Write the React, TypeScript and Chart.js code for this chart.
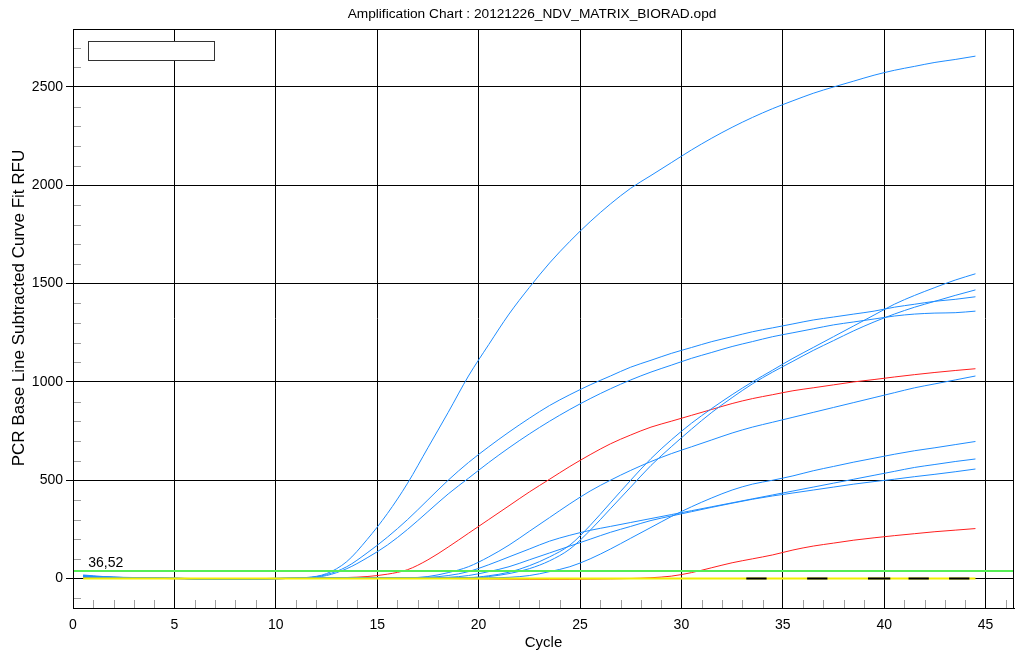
import React, { useEffect, useRef } from 'react';
import { Chart, registerables } from 'chart.js';

Chart.register(...registerables);

const FONT = '"Liberation Sans", Arial, sans-serif';

const chartTitle = 'Amplification Chart : 20121226_NDV_MATRIX_BIORAD.opd';
const xAxisTitle = 'Cycle';
const yAxisTitle = 'PCR Base Line Subtracted Curve Fit RFU';
const thresholdValue = 36.52;
const thresholdLabel = '36,52';

const xTickValues = [0, 5, 10, 15, 20, 25, 30, 35, 40, 45];
const yTickValues = [0, 500, 1000, 1500, 2000, 2500];

const cycles = [
  0.5, 1.5, 2.5, 3.5, 4.5, 5.5, 6.5, 7.5, 8.5, 9.5,
  10.5, 11.5, 12.5, 13.5, 14.5, 15.5, 16.5, 17.5, 18.5, 19.5,
  20.5, 21.5, 22.5, 23.5, 24.5, 25.5, 26.5, 27.5, 28.5, 29.5,
  30.5, 31.5, 32.5, 33.5, 34.5, 35.5, 36.5, 37.5, 38.5, 39.5,
  40.5, 41.5, 42.5, 43.5, 44.5,
];

const wellA = [
  18, 10, 6, 4, 3, 1, -2, -3, -3, -1, 2,
  5, 25, 86, 198, 330, 485, 665, 845, 1030, 1190,
  1345, 1480, 1605, 1715, 1815, 1905, 1985, 2050, 2115, 2180,
  2240, 2295, 2345, 2390, 2430, 2468, 2500, 2530, 2560, 2585,
  2605, 2625, 2640, 2657,
];
const wellB = [
  15, 8, 5, 3, 2, 0, -2, -3, -2, 0, 2,
  4, 20, 60, 130, 210, 300, 400, 500, 590, 670,
  745, 815, 880, 935, 985, 1030, 1075, 1110, 1145, 1175,
  1205, 1230, 1255, 1275, 1295, 1315, 1330, 1345, 1360, 1380,
  1395, 1410, 1420, 1433,
];
const wellC = [
  12, 7, 4, 3, 1, -1, -3, -3, -2, 0, 1,
  3, 15, 50, 105, 170, 250, 340, 430, 510, 590,
  665, 735, 800, 860, 915, 965, 1010, 1050, 1085, 1120,
  1150, 1180, 1205, 1230, 1250, 1270, 1290, 1305, 1320, 1335,
  1345, 1350, 1352, 1360,
];
const wellD = [
  14, 8, 5, 3, 2, 0, -2, -3, -3, -1, 1,
  2, 2, 3, 3, 3, 4, 4, 5, 5, 14,
  32, 65, 110, 170, 270, 385, 500, 610, 705, 790,
  865, 935, 1000, 1060, 1120, 1175, 1230, 1285, 1340, 1395,
  1440, 1480, 1518, 1550,
];
const wellE = [
  13, 7, 4, 3, 1, 0, -2, -3, -3, -1, 1,
  2, 2, 3, 3, 3, 3, 4, 4, 3, 10,
  25, 50, 90, 150, 245, 355, 465, 575, 670, 760,
  845, 920, 990, 1050, 1105, 1160, 1210, 1260, 1305, 1345,
  1380, 1410, 1440, 1468,
];
const wellF = [
  11, 6, 4, 2, 1, 0, -2, -3, -3, -2, 0,
  2, 2, 3, 3, 4, 4, 10, 30, 60, 110,
  170, 240, 310, 380, 445, 500, 550, 595, 635, 670,
  705, 740, 770, 795, 820, 845, 870, 895, 920, 945,
  970, 990, 1010, 1030,
];
const wellG = [
  10, 6, 4, 2, 1, 0, -2, -3, -3, -2, 0,
  2, 3, 3, 4, 4, 4, 6, 15, 35, 70,
  110, 150, 190, 220, 245, 265, 285, 305, 325, 345,
  365, 385, 405, 425, 445, 465, 485, 505, 525, 545,
  565, 580, 595, 608,
];
const wellH = [
  9, 5, 3, 2, 1, -1, -2, -3, -3, -2, 0,
  1, 2, 3, 3, 3, 4, 4, 6, 15, 35,
  60, 95, 130, 165, 200, 235, 265, 295, 318, 340,
  362, 383, 403, 420, 435, 450, 465, 480, 493, 505,
  518, 530, 543, 557,
];
const wellI = [
  8, 5, 3, 2, 0, -1, -2, -3, -3, -2, 0,
  1, 2, 2, 3, 3, 3, 4, 4, 4, 4,
  6, 15, 35, 60, 100, 150, 205, 260, 315, 365,
  410, 450, 480, 500, 522, 548, 570, 592, 612, 632,
  650, 665, 681, 697,
];
const wellRed1 = [
  10, 6, 4, 2, 1, 0, -1, -2, -2, -1, 0,
  2, 3, 5, 10, 22, 45, 95, 160, 230, 300,
  370, 440, 505, 570, 630, 685, 730, 770, 800, 830,
  860, 890, 915, 935, 955, 970, 985, 1000, 1012, 1025,
  1037, 1048, 1058, 1067,
];
const wellRed2 = [
  6, 3, 2, 1, 0, -1, -2, -2, -2, -1, 0,
  0, 1, 1, 1, 1, 1, 0, 0, -1, -2,
  -3, -4, -4, -4, -3, -2, 0, 4, 12, 30,
  55, 80, 100, 120, 145, 165, 180, 195, 207, 218,
  228, 238, 246, 254,
];
const wellYellow = [
  0, 0, 0, 0, 0, 0, 0, 0, 0, 0, 0,
  0, 0, 0, 0, 0, 0, 0, 0, 0, 0,
  0, 0, 0, 0, 0, 0, 0, 0, 0, 0,
  0, 0, 0, 0, 0, 0, 0, 0, 0, 0,
  0, 0, 0, 0,
];
const blackCycles = [33.2, 34.2, 35.0, 36.2, 37.2, 38.0, 39.2, 40.3, 40.8, 41.2, 42.2, 42.7, 43.2, 44.2];
const wellBlack = [0, 0, null, 0, 0, null, 0, 0, null, 0, 0, null, 0, 0];

const BLUE = '#1e8cff';
const RED = '#ff1f1f';
const YELLOW = '#f2ee00';
const GREEN = '#55ee55';

function pts(xs: number[], ys: (number | null)[]) {
  return xs.map((x, i) => ({ x, y: ys[i] }));
}

const decorPlugin = {
  id: 'decor',
  beforeDatasetsDraw(chart: any) {
    const { ctx, chartArea } = chart;
    const xs = chart.scales.x;
    const ys = chart.scales.y;
    ctx.save();
    ctx.strokeStyle = '#a0a0a0';
    ctx.lineWidth = 1;
    ctx.beginPath();
    for (let v = 1; v <= 46; v++) {
      if (v % 5 === 0) continue;
      const px = Math.round(xs.getPixelForValue(v)) + 0.5;
      if (px > chartArea.right) continue;
      ctx.moveTo(px, chartArea.bottom);
      ctx.lineTo(px, chartArea.bottom - 8);
    }
    for (let v = -100; v <= 2700; v += 100) {
      if (v % 500 === 0) continue;
      const py = Math.round(ys.getPixelForValue(v)) + 0.5;
      ctx.moveTo(chartArea.left, py);
      ctx.lineTo(chartArea.left + 8, py);
    }
    ctx.stroke();
    ctx.restore();
  },
  afterDatasetsDraw(chart: any) {
    const { ctx, chartArea } = chart;
    const ys = chart.scales.y;
    const xs = chart.scales.x;
    const ty = ys.getPixelForValue(thresholdValue);
    ctx.save();
    ctx.strokeStyle = GREEN;
    ctx.lineWidth = 2;
    ctx.beginPath();
    ctx.moveTo(chartArea.left, Math.round(ty));
    ctx.lineTo(chartArea.right, Math.round(ty));
    ctx.stroke();
    ctx.fillStyle = '#000';
    ctx.font = `14px ${FONT}`;
    ctx.textAlign = 'left';
    ctx.textBaseline = 'alphabetic';
    ctx.fillText(thresholdLabel, xs.getPixelForValue(0.75), ty - 4);
    ctx.restore();
  },
  afterDraw(chart: any) {
    const { ctx, chartArea } = chart;
    ctx.save();
    ctx.strokeStyle = '#000';
    ctx.lineWidth = 1;
    ctx.strokeRect(
      Math.round(chartArea.left) + 0.5,
      Math.round(chartArea.top) + 0.5,
      Math.round(chartArea.right - chartArea.left) - 1,
      Math.round(chartArea.bottom - chartArea.top)
    );
    ctx.strokeStyle = '#333';
    ctx.fillStyle = '#fff';
    ctx.fillRect(89, 42, 125, 18);
    ctx.strokeRect(88.5, 41.5, 126, 19);
    ctx.fillStyle = '#000';
    ctx.font = `13.7px ${FONT}`;
    ctx.textAlign = 'center';
    ctx.textBaseline = 'middle';
    ctx.fillText(chartTitle, 532, 14);
    ctx.translate(19, 308);
    ctx.rotate(-Math.PI / 2);
    ctx.font = `17px ${FONT}`;
    ctx.fillText(yAxisTitle, 0, 0);
    ctx.restore();
  },
};

export default function App() {
  const ref = useRef<HTMLCanvasElement>(null);

  useEffect(() => {
    if (!ref.current) return;
    const line = (label: string, xs: number[], ys: (number | null)[], color: string, order: number, extra: any = {}) => ({
      label,
      data: pts(xs, ys),
      borderColor: color,
      backgroundColor: color,
      borderWidth: 1,
      pointRadius: 0,
      cubicInterpolationMode: 'monotone',
      fill: false,
      order,
      ...extra,
    });
    const chart = new Chart(ref.current, {
      type: 'line',
      data: {
        datasets: [
          line('Black', blackCycles, wellBlack, '#000', 0, { borderWidth: 2, spanGaps: false, cubicInterpolationMode: 'default', tension: 0 }),
          line('A', cycles, wellA, BLUE, 2),
          line('B', cycles, wellB, BLUE, 2),
          line('C', cycles, wellC, BLUE, 2),
          line('D', cycles, wellD, BLUE, 2),
          line('E', cycles, wellE, BLUE, 2),
          line('F', cycles, wellF, BLUE, 2),
          line('G', cycles, wellG, BLUE, 2),
          line('H', cycles, wellH, BLUE, 2),
          line('I', cycles, wellI, BLUE, 2),
          line('Red1', cycles, wellRed1, RED, 3),
          line('Red2', cycles, wellRed2, RED, 3),
          line('Yellow', cycles, wellYellow, YELLOW, 1, { borderWidth: 2 }),
        ],
      },
      options: {
        animation: false,
        responsive: false,
        maintainAspectRatio: false,
        layout: { padding: { top: 29, right: 1, bottom: 0, left: 0 } },
        plugins: {
          legend: { display: false },
          tooltip: { enabled: false },
          title: { display: false },
        },
        scales: {
          x: {
            type: 'linear',
            min: 0,
            max: 46.4,
            afterBuildTicks: (s: any) => {
              s.ticks = xTickValues.map((v) => ({ value: v }));
            },
            afterFit: (s: any) => {
              s.height = 43;
            },
            grid: { color: '#000', lineWidth: 1, drawTicks: false },
            border: { color: '#000', width: 1 },
            ticks: {
              autoSkip: false,
              maxRotation: 0,
              padding: 9,
              color: '#000',
              font: { family: FONT, size: 14 },
              callback: (v: any) => String(v),
            },
            title: {
              display: true,
              text: xAxisTitle,
              color: '#000',
              font: { family: FONT, size: 15, lineHeight: 1.07 },
              padding: 0,
            },
          },
          y: {
            type: 'linear',
            min: -150,
            max: 2795,
            afterBuildTicks: (s: any) => {
              s.ticks = yTickValues.map((v) => ({ value: v }));
            },
            afterFit: (s: any) => {
              s.width = 73;
            },
            grid: { color: '#000', lineWidth: 1, drawTicks: true, tickLength: 7, tickColor: '#000' },
            border: { color: '#000', width: 1 },
            ticks: {
              autoSkip: false,
              padding: 3,
              color: '#000',
              font: { family: FONT, size: 14 },
              callback: (v: any) => String(v),
            },
          },
        },
      },
      plugins: [decorPlugin],
    } as any);
    return () => chart.destroy();
  }, []);

  return (
    <div style={{ position: 'fixed', left: 0, top: 0, width: 1015, height: 651, background: '#fff' }}>
      <canvas ref={ref} width={1015} height={651} style={{ width: 1015, height: 651, display: 'block' }} />
    </div>
  );
}
